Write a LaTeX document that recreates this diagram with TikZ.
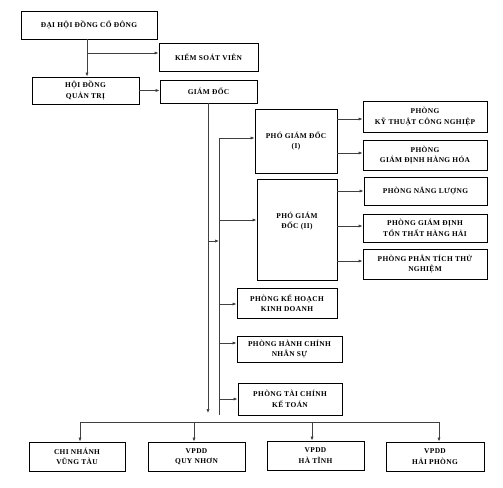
\documentclass[tikz,border=0pt]{standalone}
\usepackage{fontspec}
\setmainfont{Liberation Serif}[LetterSpace=5]
\usetikzlibrary{arrows.meta}
\tikzset{
  txt/.style={align=center, inner sep=1pt, font=\fontsize{7.4}{10.5}\selectfont\bfseries},
  box/.style={txt, draw=black, line width=0.9pt, fill=white},
  conn/.style={draw=black!75, line width=0.7pt},
  arr/.style={conn, -{Latex[length=4pt,width=3.2pt]}}
}
\begin{document}
\begin{tikzpicture}[x=1pt,y=-1pt]
\useasboundingbox (0,0) rectangle (503,487);
% boxes
\node[box, minimum width=136pt, minimum height=28pt] (dh) at (89,25) {ĐẠI HỘI ĐỒNG CỔ ĐÔNG};
\node[box, minimum width=99pt, minimum height=28pt] (ksv) at (208.5,57) {KIỂM SOÁT VIÊN};
\node[box, minimum width=107pt, minimum height=27pt] (hdqt) at (85.5,90.5) {HỘI ĐỒNG\\QUẢN TRỊ};
\node[box, minimum width=97pt, minimum height=23pt] (gd) at (208.5,91.5) {GIÁM ĐỐC};
\node[box, minimum width=82pt, minimum height=64pt] (pgd1) at (296,141) {PHÓ GIÁM ĐỐC\\(I)};
\node[box, minimum width=80pt, minimum height=101pt] (pgd2) at (297,229.5) {};
\node[txt] (pgd2t) at (297,221) {PHÓ GIÁM\\ĐỐC (II)};
\node[box, minimum width=124pt, minimum height=31pt] (kt) at (425,116.5) {PHÒNG\\KỸ THUẬT CÔNG NGHIỆP};
\node[box, minimum width=124pt, minimum height=30pt] (gdhh) at (425,155) {PHÒNG\\GIÁM ĐỊNH HÀNG HÓA};
\node[box, minimum width=123pt, minimum height=28pt] (nl) at (425.5,191) {PHÒNG NĂNG LƯỢNG};
\node[box, minimum width=124pt, minimum height=28pt] (tt) at (425,228) {PHÒNG GIÁM ĐỊNH\\TỔN THẤT HÀNG HẢI};
\node[box, minimum width=124pt, minimum height=30pt] (pt) at (425,264) {PHÒNG PHÂN TÍCH THỬ\\NGHIỆM};
\node[box, minimum width=100pt, minimum height=30pt] (kh) at (287,303) {PHÒNG KẾ HOẠCH\\KINH DOANH};
\node[box, minimum width=105pt, minimum height=26pt] (hc) at (289.5,349) {PHÒNG HÀNH CHÍNH\\NHÂN SỰ};
\node[box, minimum width=104pt, minimum height=32pt] (tc) at (290,399) {PHÒNG TÀI CHÍNH\\KẾ TOÁN};
\node[box, minimum width=96pt, minimum height=29pt] (vtau) at (77,456.5) {CHI NHÁNH\\VŨNG TÀU};
\node[box, minimum width=97pt, minimum height=29pt] (qn) at (196.5,456.5) {VPDD\\QUY NHƠN};
\node[box, minimum width=97pt, minimum height=29pt] (htinh) at (315.5,455.5) {VPDD\\HÀ TĨNH};
\node[box, minimum width=98pt, minimum height=29pt] (hp) at (435,456.5) {VPDD\\HẢI PHÒNG};
% coordinates
\coordinate (j1) at (87,53);
\coordinate (g1) at (208,413);
\coordinate (g2) at (208,241);
\coordinate (v2) at (219,241);
\coordinate (vtop) at (219,138);
\coordinate (vbot) at (219,415);
\coordinate (b2) at (219,220);
\coordinate (b3) at (219,304);
\coordinate (b4) at (219,343);
\coordinate (b5) at (219,399);
\coordinate (h1) at (80,422);
\coordinate (h2) at (194,422);
\coordinate (h3) at (312,422);
\coordinate (h4) at (439,422);
% connectors
\draw[arr] (dh.south -| j1) -- (hdqt.north -| j1);
\draw[arr] (j1) -- (ksv.west |- j1);
\draw[arr] (hdqt.east) -- (hdqt.east -| gd.west);
\draw[arr] (gd.south -| g1) -- (g1);
\draw[arr] (g2) -- (v2);
\draw[conn] (vtop) -- (vbot);
\draw[arr] (vtop) -- (vtop -| pgd1.west);
\draw[arr] (b2) -- (b2 -| pgd2.west);
\draw[arr] (b3) -- (b3 -| kh.west);
\draw[arr] (b4) -- (b4 -| hc.west);
\draw[arr] (b5) -- (b5 -| tc.west);
\draw[arr] ([yshift=-2.5pt]pgd1.east |- kt.west) -- ([yshift=-2.5pt]kt.west);
\draw[arr] ([yshift=2pt]pgd1.east |- gdhh.west) -- ([yshift=2pt]gdhh.west);
\draw[arr] (pgd2.east |- nl.west) -- (nl.west);
\draw[arr] ([yshift=2pt]pgd2.east |- tt.west) -- ([yshift=2pt]tt.west);
\draw[arr] ([yshift=3pt]pgd2.east |- pt.west) -- ([yshift=3pt]pt.west);
\draw[conn] (h1) -- (h4);
\draw[arr] (h1) -- (h1 |- vtau.north);
\draw[arr] (h2) -- (h2 |- qn.north);
\draw[arr] (h3) -- (h3 |- htinh.north);
\draw[arr] (h4) -- (h4 |- hp.north);
\end{tikzpicture}
\end{document}
